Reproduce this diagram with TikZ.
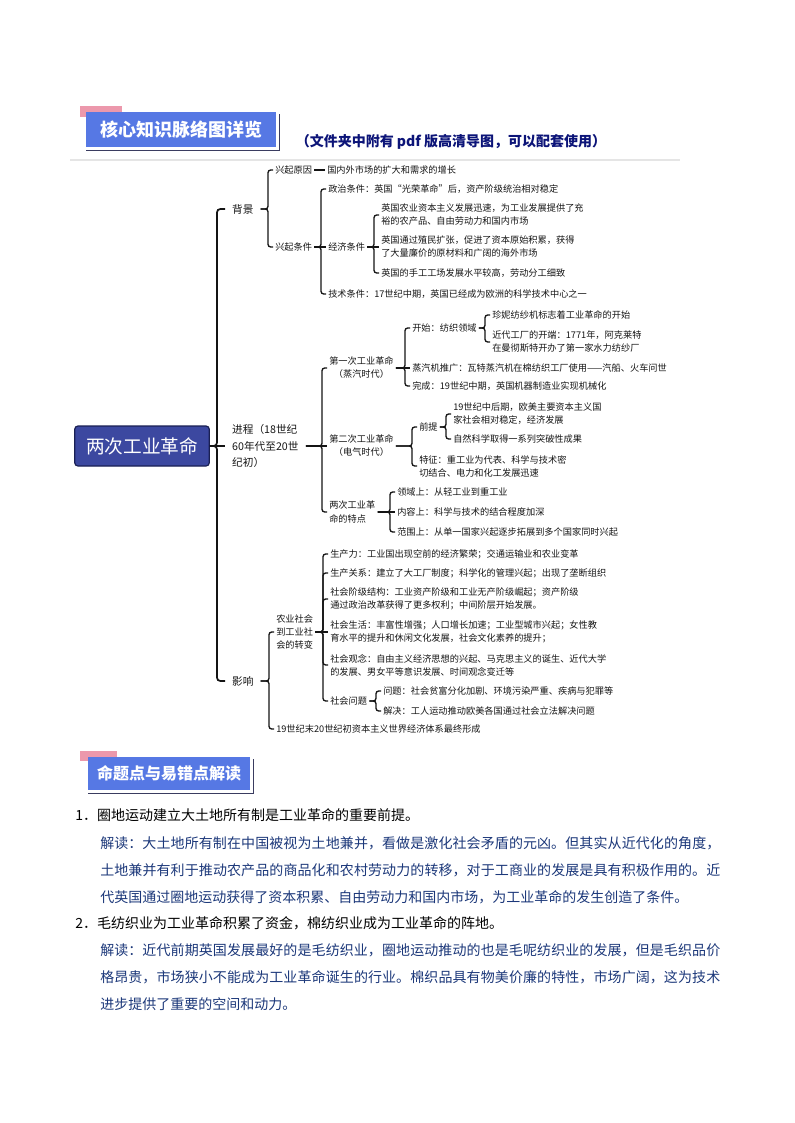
\documentclass[tikz,border=0pt]{standalone}
\usepackage{fontspec}
\setmainfont{Noto Sans CJK SC}
\XeTeXlinebreaklocale "zh"
\XeTeXlinebreakskip=0pt plus 2pt
\setlength{\parindent}{0pt}
\usepackage{xcolor}
\usepackage{tikz}
\usetikzlibrary{positioning, calc}

\definecolor{rootblue}{RGB}{60,72,160}
\definecolor{rootedge}{RGB}{26,32,84}
\definecolor{tabblue}{RGB}{86,120,228}
\definecolor{tabpink}{RGB}{236,152,172}
\definecolor{tabshade}{RGB}{58,60,96}
\definecolor{navytext}{RGB}{12,20,120}
\definecolor{notetext}{RGB}{28,56,122}
\definecolor{mapline}{RGB}{20,20,20}
\definecolor{maptext}{RGB}{22,22,22}

\begin{document}
\begin{tikzpicture}[
    x=0.75pt, y=-0.75pt,
    rootnode/.style={rectangle, draw=rootedge, fill=rootblue, line width=0.9pt,
      rounded corners=2.5pt, minimum width=101pt, minimum height=30pt,
      text=white, font=\fontsize{14}{16}\selectfont},
    major/.style={anchor=west, align=left, inner xsep=5.2pt, inner ysep=1pt,
      font=\fontsize{8}{12.3}\selectfont, text=maptext},
    leaf/.style={anchor=west, align=left, inner xsep=1.5pt, inner ysep=1pt,
      font=\fontsize{6.9}{9.75}\selectfont, text=maptext},
    stage/.style={leaf, align=center},
    trunk/.style={draw=mapline, line width=1.3pt, rounded corners=2.5pt},
    branch/.style={draw=mapline, line width=1pt, rounded corners=2pt},
    tabbox/.style={rectangle, fill=tabblue, text=white, inner sep=0pt,
      font=\fontsize{13.5}{16}\selectfont\bfseries},
    tabshadow/.style={draw=tabshade, line width=1.2pt},
    question/.style={anchor=west, inner sep=0pt, text=black,
      font=\fontsize{10.5}{20}\selectfont},
    note/.style={anchor=north west, inner sep=0pt, text=notetext,
      text width=465pt, align=justify,
      font=\fontsize{10.5}{20.25}\selectfont},
]
\useasboundingbox (0,0) rectangle (794,1123);
\fill[white] (0,0) rectangle (794,1123);

% ── Header: mind map ──
\fill[tabpink] (80,106) rectangle (122,117);
\node[tabbox, minimum width=142.5pt, minimum height=26.25pt] (hd1)
  at (181,129.5) {核心知识脉络图详览};
\draw[tabshadow] ([xshift=2.5pt,yshift=-2pt]hd1.north east)
  -- ([xshift=2.5pt,yshift=-2.5pt]hd1.south east)
  -- ([yshift=-2.5pt]hd1.south west);
\node[font=\fontsize{10.5}{12}\selectfont\bfseries, text=navytext] (sub)
  at (451,142) {（文件夹中附有 pdf 版高清导图，可以配套使用）};
\draw[black!10, line width=1.5pt] (70,160) -- (680,160);

% ── Root and main branches ──
\node[rootnode] (root) at (142,446) {两次工业革命};
\node[major] (bg) at (225,209) {背景};
\node[major] (proc) at (225,446) {进程（18世纪\\60年代至20世\\纪初）};
\node[major] (impact) at (225,681) {影响};

% ── Background ──
\node[leaf] (cause) at (273,170) {兴起原因};
\node[leaf, right=8pt of cause] (demand) {国内外市场的扩大和需求的增长};
\node[leaf] (cond) at (273,247) {兴起条件};
\node[leaf] (pol) at (326,189) {政治条件：英国“光荣革命”后，资产阶级统治相对稳定};
\node[leaf] (econ) at (326,247) {经济条件};
\node[leaf] (tech) at (326,294) {技术条件：17世纪中期，英国已经成为欧洲的科学技术中心之一};
\node[leaf] (eco1) at (379,215) {英国农业资本主义发展迅速，为工业发展提供了充\\
  裕的农产品、自由劳动力和国内市场};
\node[leaf] (eco2) at (379,247) {英国通过殖民扩张，促进了资本原始积累，获得\\
  了大量廉价的原材料和广阔的海外市场};
\node[leaf] (eco3) at (379,273) {英国的手工工场发展水平较高，劳动分工细致};

% ── Process ──
\node[stage] (ind1) at (327,368) {第一次工业革命\\（蒸汽时代）};
\node[stage] (ind2) at (327,446) {第二次工业革命\\（电气时代）};
\node[leaf] (trait) at (327,512) {两次工业革\\命的特点};

\node[leaf] (textile) at (410,328) {开始：纺织领域};
\node[leaf] (steam) at (410,368) {蒸汽机推广：瓦特蒸汽机在棉纺织工厂使用——汽船、火车问世};
\node[leaf] (done) at (410,386) {完成：19世纪中期，英国机器制造业实现机械化};
\node[leaf] (jenny) at (490,315) {珍妮纺纱机标志着工业革命的开始};
\node[leaf] (mill) at (490,342) {近代工厂的开端：1771年，阿克莱特\\
  在曼彻斯特开办了第一家水力纺纱厂};

\node[leaf] (premise) at (417,427) {前提};
\node[leaf] (feature) at (417,466) {特征：重工业为代表、科学与技术密\\
  切结合、电力和化工发展迅速};
\node[leaf] (pre1) at (451,414) {19世纪中后期，欧美主要资本主义国\\
  家社会相对稳定，经济发展};
\node[leaf] (pre2) at (451,439) {自然科学取得一系列突破性成果};

\node[leaf] (tr1) at (395,492) {领域上：从轻工业到重工业};
\node[leaf] (tr2) at (395,512) {内容上：科学与技术的结合程度加深};
\node[leaf] (tr3) at (395,532) {范围上：从单一国家兴起逐步拓展到多个国家同时兴起};

% ── Impact ──
\node[stage, font=\fontsize{6.9}{9.4}\selectfont] (agri) at (274,632)
  {农业社会\\到工业社\\会的转变};
\node[leaf] (world) at (274,729) {19世纪末20世纪初资本主义世界经济体系最终形成};
\node[leaf] (prod) at (328,554) {生产力：工业国出现空前的经济繁荣；交通运输业和农业变革};
\node[leaf] (rel) at (328,573) {生产关系：建立了大工厂制度；科学化的管理兴起；出现了垄断组织};
\node[leaf] (cls) at (328,599) {社会阶级结构：工业资产阶级和工业无产阶级崛起；资产阶级\\
  通过政治改革获得了更多权利；中间阶层开始发展。};
\node[leaf] (life) at (328,632) {社会生活：丰富性增强；人口增长加速；工业型城市兴起；女性教\\
  育水平的提升和休闲文化发展，社会文化素养的提升；};
\node[leaf] (idea) at (328,665) {社会观念：自由主义经济思想的兴起、马克思主义的诞生、近代大学\\
  的发展、男女平等意识发展、时间观念变迁等};
\node[leaf] (issue) at (328,701) {社会问题};
\node[leaf] (iss1) at (381,691) {问题：社会贫富分化加剧、环境污染严重、疾病与犯罪等};
\node[leaf] (iss2) at (381,711) {解决：工人运动推动欧美各国通过社会立法解决问题};

% ── Connectors ──
\draw[trunk] (root.east) -- (proc.west);
\foreach \c in {bg,impact}
  \draw[trunk] (\c.west) -- ++(-8,0) |- (root.east);

\foreach \c in {cause,cond}
  \draw[branch] (\c.west) -- ++(-5,0) |- (bg.east);
\draw[branch] (cause) -- (demand);
\draw[branch] (cond.east) -- (econ.west);
\foreach \c in {pol,tech}
  \draw[branch] (\c.west) -- ++(-5,0) |- (cond.east);
\draw[branch] (econ.east) -- (eco2.west);
\foreach \c in {eco1,eco3}
  \draw[branch] (\c.west) -- ++(-5,0) |- (econ.east);

\draw[branch] (proc.east) -- (ind2.west);
\foreach \c in {ind1,trait}
  \draw[branch] (\c.west) -- ++(-5,0) |- (proc.east);
\draw[branch] (ind1.east) -- (steam.west);
\foreach \c in {textile,done}
  \draw[branch] (\c.west) -- ++(-5,0) |- (ind1.east);
\foreach \c in {jenny,mill}
  \draw[branch] (\c.west) -- ++(-5,0) |- (textile.east);
\foreach \c in {premise,feature}
  \draw[branch] (\c.west) -- ++(-5,0) |- (ind2.east);
\foreach \c in {pre1,pre2}
  \draw[branch] (\c.west) -- ++(-5,0) |- (premise.east);
\draw[branch] (trait.east) -- (tr2.west);
\foreach \c in {tr1,tr3}
  \draw[branch] (\c.west) -- ++(-5,0) |- (trait.east);

\foreach \c in {agri,world}
  \draw[branch] (\c.west) -- ++(-5,0) |- (impact.east);
\draw[branch] (agri.east) -- (life.west);
\foreach \c in {prod,rel,cls,idea,issue}
  \draw[branch] (\c.west) -- ++(-5,0) |- (agri.east);
\foreach \c in {iss1,iss2}
  \draw[branch] (\c.west) -- ++(-5,0) |- (issue.east);

% ── Header: key points ──
\fill[tabpink] (80,751) rectangle (117,761);
\node[tabbox, minimum width=121.5pt, minimum height=24.75pt,
  font=\fontsize{12}{14}\selectfont\bfseries] (hd2)
  at (169,773.5) {命题点与易错点解读};
\draw[tabshadow] ([xshift=2.5pt,yshift=-2pt]hd2.north east)
  -- ([xshift=2.5pt,yshift=-2.5pt]hd2.south east)
  -- ([yshift=-2.5pt]hd2.south west);

% ── Points ──
\node[question] (q1) at (75,815) {1．圈地运动建立大土地所有制是工业革命的重要前提。};
\node[note] (n1) at (100,836) {解读：大土地所有制在中国被视为土地兼并，看做是激化社会矛盾的元凶。但其实从近代化的角度，\linebreak
  土地兼并有利于推动农产品的商品化和农村劳动力的转移，对于工商业的发展是具有积极作用的。近\linebreak
  代英国通过圈地运动获得了资本积累、自由劳动力和国内市场，为工业革命的发生创造了条件。};
\node[question] (q2) at (75,923) {2．毛纺织业为工业革命积累了资金，棉纺织业成为工业革命的阵地。};
\node[note] (n2) at (100,943) {解读：近代前期英国发展最好的是毛纺织业，圈地运动推动的也是毛呢纺织业的发展，但是毛织品价\linebreak
  格昂贵，市场狭小不能成为工业革命诞生的行业。棉织品具有物美价廉的特性，市场广阔，这为技术\linebreak
  进步提供了重要的空间和动力。};

\end{tikzpicture}
\end{document}
